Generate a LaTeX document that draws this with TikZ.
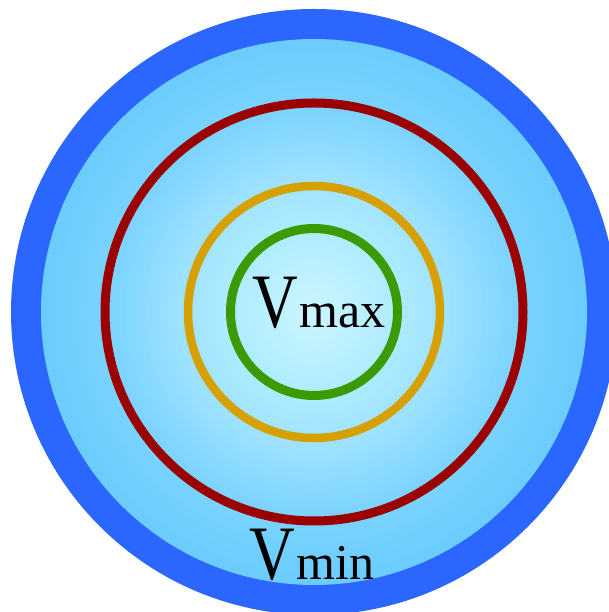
\documentclass[tikz,border=0pt]{standalone}
\usepackage{fontspec}
\setmainfont{Liberation Serif}
\definecolor{ringblue}{HTML}{2B66FF}
\definecolor{ringred}{HTML}{9B0000}
\definecolor{ringorange}{HTML}{D6A000}
\definecolor{ringgreen}{HTML}{3A9A00}
\definecolor{fillin}{HTML}{CBF6FF}
\definecolor{fillA}{HTML}{ACEAFF}
\definecolor{fillB}{HTML}{A0E3FF}
\definecolor{fillC}{HTML}{7AD3FE}
\definecolor{fillout}{HTML}{6BCCFD}
\tikzset{
  ring/.style={line width=#1},
  lbl/.style={inner sep=0pt, anchor=base west, text=black},
}
\newcommand{\vlabel}[1]{\scalebox{0.82}[1]{\fontsize{77}{77}\selectfont V}\kern2pt{\fontsize{50}{50}\selectfont #1}}
% gradient band: outer radius, inner radius, outer colour, inner colour, steps
\newcommand{\gradband}[5]{%
  \foreach \k in {0,...,#5}{%
    \pgfmathsetmacro{\rr}{#1-(#1-#2)*\k/#5}%
    \pgfmathsetmacro{\pp}{100*\k/#5}%
    \fill[#4!\pp!#3] (c) circle[radius=\rr];
  }%
}
\begin{document}
\begin{tikzpicture}[x=1pt,y=1pt]
\useasboundingbox (0,0) rectangle (609,612);
\clip (0,0) rectangle (609,612);
\coordinate (c) at (314,300);
\fill[ringblue] (c) circle[radius=303];
\gradband{273}{208}{fillout}{fillC}{20}
\gradband{208}{131}{fillC}{fillB}{24}
\gradband{131}{93}{fillB}{fillA}{12}
\gradband{93}{1}{fillA}{fillin}{30}
\draw[ringred, ring=9pt] (c) circle[radius=209];
\draw[ringorange, ring=8.5pt] (c) circle[radius=126];
\draw[ringgreen, ring=9pt] (c) circle[radius=83.5];
\node[lbl] (vmax) at (252,284) {\vlabel{max}};
\node[lbl] (vmin) at (249,32) {\vlabel{min}};
\end{tikzpicture}
\end{document}
